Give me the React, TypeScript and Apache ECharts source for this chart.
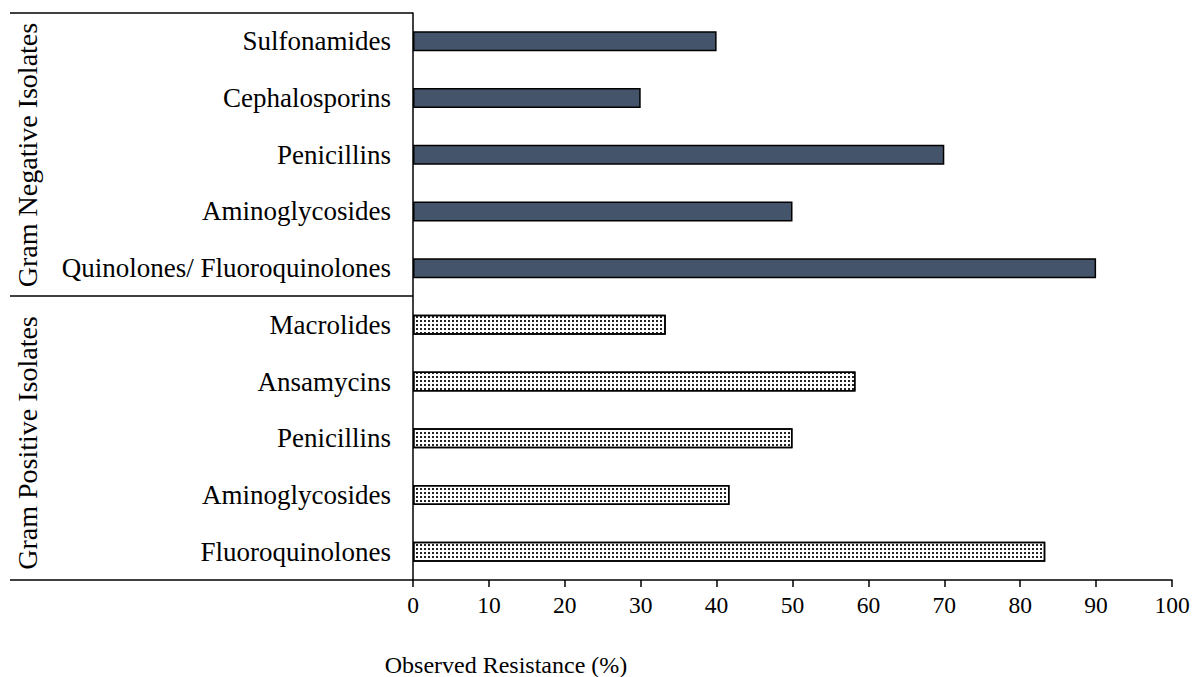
import React, { useEffect, useRef } from "react";
import * as echarts from "echarts";

const categories = [
  "Sulfonamides",
  "Cephalosporins",
  "Penicillins",
  "Aminoglycosides",
  "Quinolones/ Fluoroquinolones",
  "Macrolides",
  "Ansamycins",
  "Penicillins",
  "Aminoglycosides",
  "Fluoroquinolones",
];
const gramNegative = [40, 30, 70, 50, 90, null, null, null, null, null];
const gramPositive = [null, null, null, null, null, 33.3, 58.3, 50, 41.7, 83.3];
const xTicks = [0, 100, 10];
const groupLabels = ["Gram Negative Isolates", "Gram Positive Isolates"];
const xAxisTitle = "Observed Resistance (%)";

const FONT = "'Liberation Serif', 'Times New Roman', serif";

export default function App() {
  const ref = useRef<HTMLDivElement>(null);
  useEffect(() => {
    if (!ref.current) return;
    const chart = echarts.init(ref.current, null, { renderer: "svg" });
    const lineStyle = { stroke: "#000", lineWidth: 1.5 };
    chart.setOption({
      animation: false,
      backgroundColor: "#fff",
      grid: { left: 413, right: 23, top: 13, bottom: 97, containLabel: false },
      xAxis: {
        type: "value",
        min: xTicks[0],
        max: xTicks[1],
        interval: xTicks[2],
        splitLine: { show: false },
        axisLine: { show: true, lineStyle: { color: "#000", width: 1.5 } },
        axisTick: { show: true, length: 7, lineStyle: { color: "#000", width: 1.5 } },
        axisLabel: { color: "#000", fontFamily: FONT, fontSize: 23.5, margin: 13 },
      },
      yAxis: {
        type: "category",
        inverse: true,
        data: categories,
        axisLine: { show: true, lineStyle: { color: "#000", width: 1.5 } },
        axisTick: { show: false },
        axisLabel: { color: "#000", fontFamily: FONT, fontSize: 27, margin: 22 },
      },
      series: [
        {
          type: "bar",
          stack: "all",
          data: gramNegative,
          barWidth: 20,
          itemStyle: { color: "#44546A", borderColor: "#000", borderWidth: 1.5 },
        },
        {
          type: "bar",
          stack: "all",
          data: gramPositive,
          barWidth: 20,
          itemStyle: {
            color: "#ffffff",
            borderColor: "#000",
            borderWidth: 1.5,
            decal: {
              symbol: "rect",
              symbolSize: 1,
              color: "#222",
              backgroundColor: "#fff",
              dashArrayX: [2, 2],
              dashArrayY: [1.5, 1.5],
              rotation: 0,
            },
          },
        },
      ],
      graphic: [
        { type: "line", shape: { x1: 10, y1: 13, x2: 413, y2: 13 }, style: lineStyle },
        { type: "line", shape: { x1: 10, y1: 296, x2: 413, y2: 296 }, style: lineStyle },
        { type: "line", shape: { x1: 10, y1: 580, x2: 413, y2: 580 }, style: lineStyle },
        {
          type: "text",
          x: 27,
          y: 155,
          rotation: Math.PI / 2,
          style: {
            text: groupLabels[0],
            fontFamily: FONT,
            fontSize: 28,
            fill: "#000",
            textAlign: "center",
            textVerticalAlign: "middle",
          },
        },
        {
          type: "text",
          x: 27,
          y: 443,
          rotation: Math.PI / 2,
          style: {
            text: groupLabels[1],
            fontFamily: FONT,
            fontSize: 28,
            fill: "#000",
            textAlign: "center",
            textVerticalAlign: "middle",
          },
        },
        {
          type: "text",
          x: 506,
          y: 665,
          style: {
            text: xAxisTitle,
            fontFamily: FONT,
            fontSize: 24,
            fill: "#000",
            textAlign: "center",
            textVerticalAlign: "middle",
          },
        },
      ],
    });
    return () => chart.dispose();
  }, []);
  return (
    <div
      ref={ref}
      style={{ position: "absolute", left: 0, top: 0, width: 1195, height: 677 }}
    />
  );
}
